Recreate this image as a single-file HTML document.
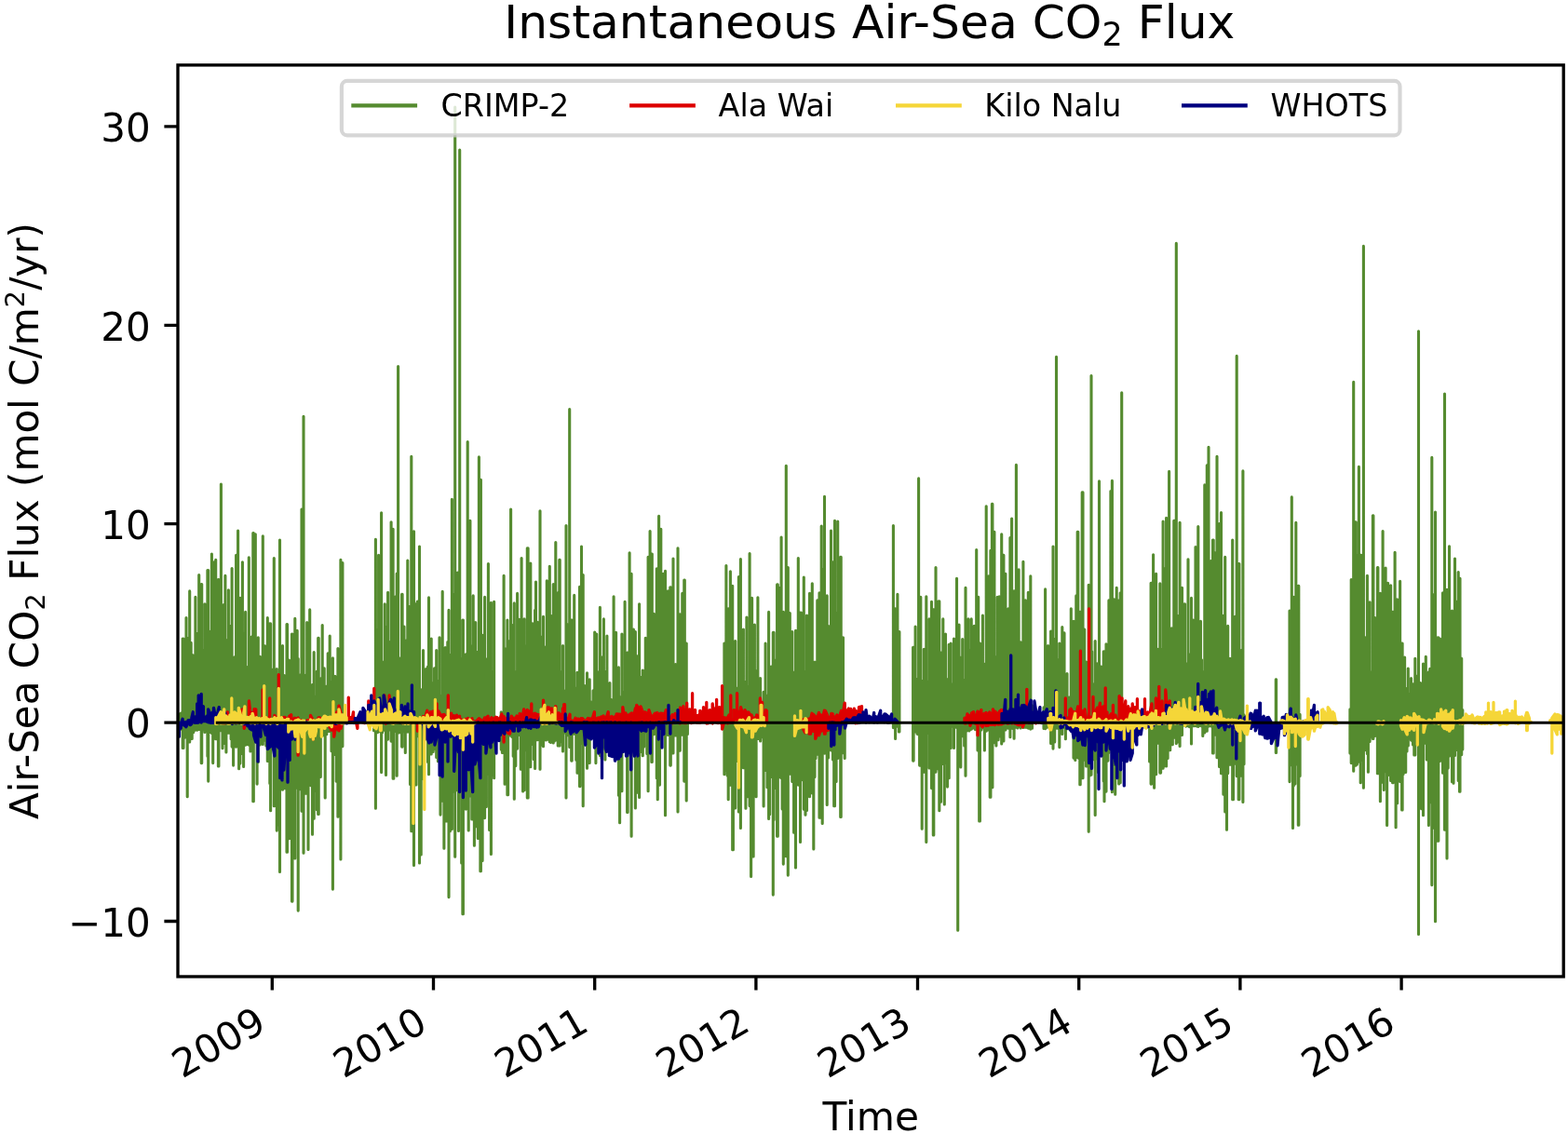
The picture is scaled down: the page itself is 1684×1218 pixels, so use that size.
<!DOCTYPE html>
<html lang="en"><head><meta charset="utf-8"><title>Instantaneous Air-Sea CO2 Flux</title>
<style>
html,body{margin:0;padding:0;background:#fff;}
body{width:1684px;height:1218px;overflow:hidden;}
svg{display:block;}
text{font-family:"DejaVu Sans", "Liberation Sans", sans-serif;fill:#000;}
.tk{font-size:42.05px;}
.lg{font-size:33.33px;}
.xt{font-size:41.75px;}
</style></head><body>
<svg width="1684" height="1218" viewBox="0 0 1684 1218">
<rect width="1684" height="1218" fill="#fff"/>
<path d="M193.5 766.5V783.3M194.8 765.8V783.1M196.2 686.1V803.4M197.0 686.1V803.4M198.7 740.5V792.1M200.0 663.6V785.8M201.2 685.2V855.8M202.6 716.6V793.2M203.7 634.9V796.9M205.2 690.4V791.8M206.2 703.2V793.4M207.8 704.0V786.6M209.9 641.2V784.1M211.7 680.5V784.3M213.7 617.5V783.5M216.2 627.5V819.6M216.7 627.5V819.6M218.2 698.2V783.1M219.9 648.7V786.4M222.9 612.5V812.2M223.7 612.5V839.1M224.7 678.1V786.8M226.0 704.3V786.1M227.4 595.0V787.5M228.7 658.1V819.6M229.9 603.7V783.1M231.7 601.2V793.7M234.4 622.5V822.9M234.9 622.5V822.9M236.4 697.1V784.7M237.4 520.1V783.3M239.0 658.4V803.7M240.3 649.6V798.5M241.9 618.2V784.0M242.9 717.0V808.0M244.2 687.5V785.8M245.4 633.7V787.2M246.8 672.3V786.9M248.1 711.2V793.8M249.1 610.5V802.1M250.6 723.8V822.1M252.0 705.7V786.9M253.6 596.3V802.3M254.6 639.9V787.5M255.6 570.1V795.1M256.6 676.0V825.8M257.9 642.4V820.1M260.4 603.7V809.5M261.6 680.1V823.4M263.6 657.4V800.3M265.0 719.1V799.4M266.3 716.4V799.8M267.3 598.8V800.1M268.9 686.3V806.9M270.2 684.0V798.6M271.8 572.5V860.8M272.3 572.5V860.8M274.3 573.8V796.3M276.1 725.1V842.1M277.3 684.8V818.4M279.3 705.3V800.0M280.6 735.5V798.3M282.3 575.8V799.5M284.5 693.8V795.2M285.8 711.5V801.0M287.3 663.6V817.5M288.4 726.1V799.9M289.8 669.9V841.5M290.6 669.9V870.8M292.3 719.2V798.2M294.3 599.5V865.8M296.2 732.2V840.2M297.3 718.5V892.1M298.8 749.7V885.9M300.5 580.0V936.4M303.5 693.6V848.3M305.3 725.5V846.7M306.6 736.2V830.7M308.0 670.6V915.2M308.5 670.6V915.2M310.5 709.1V900.8M311.8 733.0V885.0M313.5 681.1V968.1M314.0 681.1V968.1M315.7 715.4V853.7M316.8 664.4V921.9M318.3 715.2V846.1M319.2 677.4V844.3M320.2 707.5V978.1M322.2 725.1V847.6M324.0 547.1V871.2M326.0 447.3V916.2M327.4 738.4V832.8M328.7 725.1V852.3M329.7 668.6V834.9M331.0 690.3V912.4M332.7 654.9V842.7M333.9 740.3V843.7M335.5 735.5V896.2M337.2 700.6V879.3M339.1 748.1V849.5M340.4 721.0V869.7M341.7 685.3V874.5M342.2 685.3V874.5M344.3 728.9V834.5M346.2 671.6V790.2M348.2 717.9V788.3M349.2 741.9V857.0M350.8 737.1V788.7M352.2 701.8V785.5M354.2 683.1V785.4M356.0 732.2V806.7M357.4 706.8V955.1M358.6 744.8V810.6M359.9 726.4V786.7M361.2 747.4V839.3M362.9 696.6V877.3M365.9 601.2V922.9M367.2 604.5V801.6M367.9 604.5V801.6M401.5 764.7V784.7M403.4 579.3V868.3M405.4 676.6V786.7M406.6 596.3V785.9M408.0 717.3V783.3M409.6 550.8V829.6M410.6 719.1V786.8M411.9 711.0V784.3M413.3 648.7V783.7M414.5 673.3V832.5M416.6 636.2V794.1M418.4 689.8V783.9M420.1 560.8V796.1M422.1 568.3V836.3M422.8 734.4V836.3M424.9 640.7V785.4M426.2 616.1V833.2M427.6 393.6V783.6M428.8 706.7V787.0M430.1 711.3V785.3M431.6 638.2V802.1M432.1 638.2V802.1M434.0 673.0V785.6M435.3 706.2V808.4M436.6 687.9V785.8M437.8 602.0V786.1M439.2 651.3V785.2M440.5 692.6V842.5M441.8 490.2V892.7M443.1 659.1V792.2M444.5 570.8V929.4M445.7 648.6V842.2M447.0 654.3V842.9M448.3 646.1V790.8M450.5 587.0V926.9M452.2 740.7V918.0M453.5 744.9V794.8M454.5 698.6V836.6M456.1 726.0V789.6M457.4 718.5V792.4M459.5 716.0V818.4M460.5 641.9V831.7M463.2 686.1V810.0M465.2 733.6V807.4M466.5 717.9V804.4M468.7 698.6V813.4M470.4 732.0V817.7M472.0 684.8V808.0M473.0 747.4V875.1M475.2 635.4V860.3M476.9 701.3V911.2M478.2 695.5V816.4M479.5 723.9V882.0M480.8 689.5V834.5M482.0 655.4V963.6M483.4 703.2V892.8M485.4 536.4V890.4M487.3 638.2V850.1M488.7 115.0V920.2M489.9 695.0V816.3M491.4 615.0V848.7M492.5 703.4V892.5M493.7 161.1V842.0M495.7 707.4V926.9M496.9 666.1V981.8M497.4 666.1V981.8M499.0 728.0V826.9M500.3 702.7V869.1M502.2 474.5V826.2M503.2 611.8V892.0M504.9 559.3V854.9M506.8 693.7V880.0M508.2 639.9V842.9M509.4 721.0V908.2M510.7 668.6V887.7M512.0 700.4V836.0M513.3 730.1V900.4M514.4 490.9V856.9M515.9 515.2V935.7M516.4 515.2V935.7M518.1 682.2V924.4M520.6 641.2V878.6M522.4 708.1V866.4M524.4 605.5V831.4M525.6 698.2V891.5M527.4 647.4V917.5M528.9 721.8V832.4M530.6 646.2V835.8M538.2 764.9V805.1M539.4 766.2V808.4M541.1 618.2V790.1M542.1 721.7V842.3M543.4 696.9V790.8M544.9 666.1V853.8M545.6 720.9V853.8M547.3 688.5V789.7M548.6 547.1V790.2M549.9 736.8V791.5M551.2 671.4V812.2M552.3 647.9V858.3M553.8 721.5V822.6M555.6 637.4V804.1M557.7 665.2V789.5M559.3 672.7V826.3M560.1 599.5V826.3M561.6 728.1V849.9M563.1 664.9V848.8M564.2 693.7V805.7M566.3 588.8V857.0M567.1 588.8V857.0M568.1 687.4V794.2M569.8 605.0V823.7M572.0 669.7V799.4M573.3 674.8V815.6M574.6 655.3V825.4M575.5 625.0V792.3M577.2 668.4V794.8M578.5 694.0V791.3M580.0 548.8V826.3M581.1 694.5V800.2M582.4 684.0V795.3M583.5 662.4V801.8M585.0 708.6V790.3M586.3 694.8V795.0M587.3 623.7V789.5M588.8 690.0V794.2M590.3 608.2V796.8M591.5 661.4V797.5M592.8 700.7V794.7M594.3 627.5V797.9M595.4 659.6V796.1M596.8 582.5V790.0M598.0 677.3V795.1M599.2 636.8V800.9M600.8 601.2V800.9M601.2 601.2V800.9M603.2 721.5V796.8M604.5 693.6V806.9M605.8 742.0V786.9M608.0 564.6V857.0M609.7 670.8V789.6M611.7 439.5V802.4M613.7 666.1V817.1M614.2 666.1V817.1M616.7 639.4V788.2M618.8 739.0V816.3M620.0 722.3V830.3M621.4 735.3V806.5M622.5 630.4V844.6M623.0 630.4V844.6M624.5 587.0V798.1M626.2 617.5V865.8M627.9 736.6V787.4M629.2 754.3V788.2M630.5 722.8V825.2M631.8 754.7V786.7M633.2 729.8V819.4M634.4 753.8V785.8M635.7 756.0V790.3M637.0 741.7V786.0M638.7 679.1V786.3M639.9 681.1V819.6M640.7 681.1V789.9M642.2 721.7V788.0M644.4 652.4V811.5M646.1 735.1V814.2M647.4 705.5V804.2M648.4 664.9V788.4M649.9 721.4V815.9M651.9 683.1V785.2M653.9 745.6V789.5M654.9 733.5V786.1M656.5 751.5V785.6M657.8 757.4V785.5M659.1 640.7V789.5M660.4 721.5V811.5M661.6 679.4V790.7M663.0 728.2V787.9M664.4 716.8V854.3M665.6 754.1V883.8M666.9 748.6V787.9M667.9 681.1V849.8M669.5 744.3V786.0M671.1 646.2V788.9M672.1 742.0V788.1M673.6 701.1V872.5M674.1 701.1V872.5M676.1 593.8V787.1M678.1 616.2V898.2M680.4 676.1V788.2M682.4 678.6V867.9M683.8 704.5V786.6M685.1 705.8V851.3M686.6 648.7V856.5M687.7 729.5V788.7M689.0 727.3V807.6M690.3 720.0V811.8M691.6 749.9V802.1M693.3 685.3V786.3M694.8 715.8V809.6M696.1 598.3V849.8M698.1 570.6V804.7M699.8 595.0V818.4M700.3 595.0V818.4M702.3 659.4V788.7M703.3 715.5V785.1M705.3 610.7V835.7M706.3 658.6V858.8M707.6 554.3V786.5M708.5 655.7V843.1M709.8 568.3V785.1M711.1 697.0V788.5M712.3 616.2V788.7M714.5 613.2V875.8M716.3 700.6V785.3M717.3 634.9V789.5M719.8 630.7V822.1M720.3 630.7V822.1M721.5 672.1V787.7M723.0 600.0V808.9M724.1 753.0V789.3M725.5 713.5V789.9M726.7 739.5V789.5M728.0 588.8V872.0M729.3 682.7V786.3M730.3 659.9V806.3M732.8 637.4V789.3M734.8 623.0V839.1M735.3 623.0V839.1M737.2 691.1V860.0M738.4 766.4V788.6M777.9 691.1V831.7M779.9 607.5V827.3M781.1 703.9V833.1M782.2 653.7V858.8M784.4 613.7V843.3M786.7 629.2V912.7M787.4 735.1V912.7M789.7 688.6V868.0M791.5 739.2V817.5M793.4 619.5V872.0M795.4 600.5V889.5M796.7 705.1V818.0M798.4 676.1V824.8M800.9 732.3V868.3M801.9 663.1V836.3M803.4 737.4V855.8M805.1 594.5V865.6M806.6 676.2V941.4M807.6 642.4V842.3M809.1 724.2V919.9M810.4 671.1V823.8M812.1 720.9V855.8M813.9 641.7V793.4M814.6 750.7V793.4M816.6 728.5V795.9M818.8 756.4V791.7M820.1 743.2V865.9M822.1 691.1V827.4M824.0 747.3V845.8M825.6 657.4V879.5M826.6 739.7V874.7M828.1 716.0V834.4M829.2 744.8V830.8M830.3 679.4V961.1M831.1 679.4V880.6M833.1 709.0V846.5M834.6 627.9V898.2M835.3 627.9V898.2M836.6 631.2V834.7M839.1 577.0V835.7M840.1 725.9V869.0M841.3 657.4V928.1M844.3 500.2V919.7M846.3 609.5V940.1M848.3 658.6V831.3M850.8 678.6V839.5M852.6 722.2V894.3M854.5 677.4V931.9M857.3 599.5V843.1M859.5 658.1V904.5M860.3 658.1V829.6M861.7 721.4V837.6M863.3 620.0V869.2M865.0 721.5V875.3M866.5 661.1V870.4M868.2 713.4V830.1M869.5 637.4V855.8M870.8 705.9V827.7M872.3 626.7V851.9M873.8 744.5V911.9M875.0 711.1V834.6M876.0 751.0V814.6M877.8 644.9V810.2M880.0 636.7V878.3M880.8 636.7V878.3M882.2 565.1V854.9M883.2 611.2V884.5M885.5 533.4V809.1M888.2 639.9V864.5M889.5 672.4V813.9M892.5 570.1V806.0M894.5 603.7V815.9M895.7 657.3V865.8M896.5 559.3V865.8M898.1 659.0V839.4M899.7 560.1V814.4M900.7 671.9V809.5M902.7 598.3V877.5M903.2 598.3V877.5M905.5 684.8V808.8M907.2 756.8V814.4M959.4 564.6V781.6M961.6 653.7V793.4M963.9 638.2V780.3M965.4 678.6V785.9M965.9 678.6V785.9M980.6 695.3V817.1M981.1 695.3V817.1M983.1 673.1V786.0M985.0 729.5V788.3M986.6 513.9V789.1M987.6 691.9V822.1M988.8 641.2V787.4M990.2 731.3V890.3M992.3 697.3V829.2M994.8 640.7V904.5M996.7 732.0V787.4M998.0 664.9V824.9M999.3 706.5V817.6M1000.5 646.2V846.6M1002.3 654.9V897.0M1002.8 654.9V897.0M1005.0 609.5V829.3M1008.0 645.7V826.3M1008.8 645.7V870.8M1010.5 701.1V861.3M1012.8 664.9V820.4M1014.3 719.0V864.0M1015.5 681.1V819.2M1017.5 729.7V845.1M1019.2 692.3V835.8M1021.2 691.1V803.4M1022.7 734.9V780.2M1024.5 686.1V803.4M1027.5 621.2V781.6M1028.7 717.5V999.3M1030.0 671.1V783.0M1031.8 706.4V823.9M1033.7 686.6V790.6M1035.7 730.3V801.0M1037.0 631.2V833.3M1038.3 723.4V785.0M1040.0 664.9V782.2M1040.9 700.1V784.9M1042.2 699.0V783.6M1043.2 664.9V783.2M1044.8 723.6V782.1M1046.2 672.4V781.8M1047.4 712.5V783.6M1048.7 590.5V781.6M1050.0 641.2V805.9M1050.7 641.2V783.3M1051.7 728.3V882.0M1052.4 691.1V882.0M1053.9 738.7V784.0M1055.4 661.1V781.7M1057.4 713.3V805.9M1059.2 543.8V785.3M1060.4 708.7V784.3M1061.9 618.7V782.8M1063.2 677.5V856.3M1063.9 591.3V856.3M1065.4 541.4V845.8M1065.9 541.4V845.8M1066.9 655.1V783.2M1067.9 571.3V797.8M1069.9 705.5V800.9M1071.2 641.2V783.5M1072.1 702.3V794.7M1073.2 640.7V784.0M1074.7 671.6V790.9M1075.7 573.8V799.0M1077.4 596.3V795.9M1077.9 596.3V795.9M1079.9 616.2V783.9M1081.2 695.2V782.0M1082.9 653.7V782.3M1084.9 577.5V791.7M1086.6 557.1V781.5M1087.7 715.6V782.5M1089.1 634.9V793.3M1090.3 703.0V781.1M1091.4 499.4V781.1M1092.9 704.3V781.9M1094.1 611.7V780.5M1096.1 689.8V781.9M1098.9 603.2V781.5M1101.3 644.9V781.3M1103.3 696.7V781.4M1104.3 636.2V782.1M1105.9 735.0V782.2M1106.8 618.7V783.1M1108.5 757.7V782.3M1121.0 759.9V782.5M1122.6 632.9V782.8M1123.6 718.5V781.6M1125.6 693.6V780.9M1127.5 752.1V782.1M1128.6 678.1V798.4M1130.1 716.5V795.7M1131.0 587.0V804.1M1132.7 686.5V796.9M1134.5 383.2V782.1M1136.6 708.6V782.5M1137.8 691.1V802.6M1139.2 729.8V782.0M1140.8 673.6V788.4M1141.8 724.5V781.5M1143.0 679.9V781.3M1144.4 737.4V793.7M1146.0 723.5V781.4M1147.0 754.0V782.7M1148.3 749.0V782.7M1150.3 653.7V782.2M1153.0 667.4V814.1M1154.8 698.2V816.4M1155.8 639.9V812.9M1157.2 571.3V813.4M1157.8 571.3V813.4M1158.7 691.0V814.6M1159.8 657.4V842.8M1160.2 657.4V842.8M1161.3 690.0V806.1M1162.2 528.9V835.8M1163.0 528.9V835.8M1164.7 676.1V816.2M1166.5 711.1V822.9M1167.8 712.1V808.7M1169.2 628.2V893.2M1170.4 721.9V833.1M1172.0 403.6V832.3M1172.7 699.8V807.8M1174.3 735.0V815.7M1176.2 688.6V875.4M1178.2 712.9V815.0M1179.5 750.4V829.6M1180.5 516.9V811.0M1182.7 716.0V809.5M1185.2 699.8V838.9M1186.0 699.8V860.8M1188.0 691.8V850.1M1189.9 719.6V817.1M1190.9 644.9V808.5M1192.9 527.6V805.0M1194.4 516.4V850.8M1196.7 643.7V821.6M1197.7 673.0V853.3M1199.2 631.2V816.3M1200.3 684.2V812.4M1201.7 644.9V841.9M1203.2 636.7V840.8M1204.7 421.8V816.8M1234.6 766.9V817.9M1236.1 626.2V842.1M1236.6 626.2V842.1M1238.6 595.8V797.0M1239.6 700.6V846.3M1241.6 616.2V831.7M1243.7 697.4V798.1M1245.8 626.7V830.1M1246.6 705.8V830.1M1247.6 697.3V805.2M1249.1 560.1V825.2M1250.2 673.8V823.0M1251.5 610.5V798.6M1252.6 556.3V822.9M1254.1 610.4V814.5M1255.6 506.4V799.2M1256.7 732.1V805.8M1258.3 674.9V798.0M1259.3 726.2V799.7M1260.8 559.3V792.2M1261.6 559.3V781.0M1263.3 261.4V798.6M1264.5 661.4V797.1M1265.8 686.6V780.6M1267.1 561.3V801.4M1268.4 662.7V779.2M1269.5 631.2V789.4M1271.0 719.4V778.9M1272.0 648.7V778.4M1272.5 648.7V778.4M1273.6 712.8V780.1M1274.9 713.0V778.9M1276.0 600.7V779.7M1277.5 702.7V780.7M1279.5 642.4V798.9M1281.5 666.1V779.8M1282.7 693.7V779.6M1284.0 587.5V779.6M1285.3 663.9V779.9M1286.8 565.6V780.4M1287.9 700.0V779.6M1289.5 667.4V778.9M1290.5 708.7V780.0M1291.8 721.5V790.5M1293.8 520.9V787.0M1296.3 499.7V785.2M1298.0 480.2V780.1M1300.5 602.5V779.9M1302.5 580.0V808.9M1303.2 580.0V808.9M1305.0 593.8V789.3M1307.0 490.2V813.8M1309.5 562.6V823.4M1311.5 550.6V830.8M1312.6 673.2V815.9M1313.9 661.2V853.3M1315.7 598.3V872.0M1317.5 715.7V891.2M1318.7 672.4V830.6M1321.0 707.3V821.3M1323.7 580.0V858.8M1324.5 718.2V858.8M1326.5 662.4V820.1M1328.2 382.4V833.6M1330.2 605.5V858.8M1330.9 605.5V858.8M1332.1 717.6V814.2M1333.2 698.6V833.1M1334.9 505.9V861.5M1336.0 767.7V820.7M1370.3 729.8V808.5M1370.6 729.8V808.5M1385.0 656.1V839.6M1387.3 533.9V821.8M1388.5 732.0V889.5M1389.3 641.2V844.0M1390.9 676.2V841.9M1391.8 561.3V820.9M1394.3 629.4V886.2M1394.8 629.4V886.2M1396.1 767.4V833.4M1449.9 761.7V809.1M1451.2 622.5V819.6M1452.4 653.1V815.9M1453.7 410.4V828.3M1455.7 560.8V822.1M1456.2 560.8V822.1M1457.4 596.3V821.1M1459.4 501.4V818.1M1461.2 596.3V840.8M1461.9 596.3V816.2M1462.9 657.2V811.2M1464.4 264.4V846.3M1466.1 684.8V805.6M1468.4 618.2V809.6M1469.4 706.4V829.3M1471.1 646.7V796.4M1473.3 722.0V791.2M1474.4 553.8V793.4M1474.9 553.8V793.4M1476.6 663.6V790.4M1479.4 609.5V830.8M1479.9 609.5V830.8M1481.1 663.4V827.3M1482.4 637.4V860.8M1483.7 705.0V840.1M1485.1 570.6V830.9M1486.3 642.9V848.5M1488.1 610.0V828.8M1489.6 664.3V886.5M1490.6 626.2V832.8M1493.6 628.7V838.4M1495.6 657.4V840.8M1496.1 657.4V840.8M1498.1 593.3V831.8M1499.1 714.6V888.7M1500.6 643.7V862.8M1501.9 669.8V834.2M1503.6 624.2V839.4M1505.6 691.1V870.0M1506.1 691.1V870.0M1507.1 734.6V831.4M1508.6 706.1V818.4M1509.7 739.4V829.5M1511.0 740.7V806.9M1512.3 718.0V800.9M1513.6 745.6V792.9M1515.5 728.5V795.1M1517.5 734.8V800.0M1518.8 744.0V810.9M1519.8 707.3V810.9M1521.4 726.3V797.2M1523.5 355.7V1003.5M1525.5 733.5V797.0M1526.6 752.8V868.8M1528.5 713.0V875.8M1531.3 705.3V798.5M1532.3 735.7V815.9M1534.4 721.8V886.5M1535.7 718.4V861.7M1537.8 491.4V950.6M1539.8 638.7V889.1M1541.5 550.1V989.8M1544.0 684.8V903.2M1544.8 684.8V903.2M1546.5 686.1V817.4M1549.5 636.7V830.3M1550.2 636.7V830.3M1551.5 423.1V891.3M1552.6 659.8V816.0M1554.0 633.2V921.9M1555.2 687.4V825.1M1556.5 586.8V812.1M1557.8 695.7V803.2M1559.5 656.1V839.7M1561.0 685.7V841.3M1562.5 600.0V811.5M1564.5 646.2V805.5M1566.2 614.5V838.4M1567.5 621.2V850.3M1568.0 621.2V850.3M1569.7 707.3V810.6M1570.8 762.5V804.9" stroke="#558b2f" stroke-width="3.1" stroke-linecap="round" stroke-linejoin="round" fill="none"/>
<path d="M232.5 775.4V776.0L234.0 776.5V773.1L235.5 774.7V775.3L237.0 775.1V772.2L238.5 772.9V776.7L240.0 776.6V774.1L241.5 772.7V776.9L243.0 775.4V774.5L244.4 764.8V775.2L246.0 775.3V770.6L247.5 768.9V775.5L249.0 775.0V770.9L250.5 771.5V776.5L252.0 775.4V770.0L253.3 767.8V775.0L255.0 775.1V772.2L256.5 773.9V775.1L258.0 774.8V771.4L259.5 762.3V776.1L261.0 776.1V761.6L262.2 774.3V782.3L264.0 775.0V774.4L265.5 773.7V776.7L267.4 776.6V752.9L268.5 764.0V776.1L270.0 776.7V765.7L271.5 765.5V775.4L273.0 775.1V761.7L274.8 761.8V776.5L276.0 774.6V772.7L277.5 771.8V775.0L279.0 776.2V775.3L280.5 771.6V775.2L282.2 775.5V771.1L283.5 772.1V776.5L285.0 776.2V775.5L286.5 771.1V774.8L288.0 776.5V772.2L289.7 772.6V776.9L291.0 774.9V774.3L292.5 774.7V775.3L294.9 776.1V768.5L297.0 771.9V775.3L299.3 775.3V771.4L301.5 771.2V776.4L303.8 775.0V770.7L306.0 770.5V774.7L307.5 776.3V773.4L309.0 771.4V774.9L310.5 775.1V769.5L312.7 767.8V776.5L315.0 776.6V772.6L316.5 771.3V775.3L318.0 775.0V772.9L320.1 771.1V775.2L323.1 775.9V773.7L325.5 774.9V775.6L327.0 775.8V775.2L328.5 775.7V776.6L330.0 775.2V773.6L331.5 773.6V775.3L333.5 776.5V768.5L336.4 774.3V775.9L339.0 774.9V774.0L340.9 775.1V775.7L342.0 774.6V770.9L343.5 771.0V775.2L345.0 776.1V772.4L346.5 772.9V774.9L348.3 775.4V774.8L349.5 773.0V775.0L351.0 775.9V773.2L352.5 775.2V775.8L354.0 781.3V772.2L355.5 774.9V784.0L357.0 784.2V773.9L358.7 772.6V791.2L360.0 782.7V774.9L361.7 764.8V782.3L363.9 784.7V758.1L366.0 765.7V782.4L367.5 774.8V771.0L369.1 770.7V774.9L370.5 776.6V771.3L372.0 771.3V774.9L374.3 775.3V772.2L376.5 770.7V775.6L378.0 775.1V773.3L379.5 764.8V774.5L381.0 775.2V772.0L382.4 772.2V775.2L383.9 782.3V772.3L385.5 772.9V775.0L387.0 775.2V772.7L388.5 772.1V775.3L389.9 775.9V770.7L391.5 770.8V776.7L393.0 775.4V766.7L394.5 766.5V776.0L395.8 774.8V767.8L397.5 769.9V776.3L398.8 774.6V764.8L400.5 767.4V775.6L401.8 774.6V766.6L403.5 770.3V774.7L405.0 775.3V767.0L406.5 769.3V776.9L407.7 775.5V774.9L409.5 772.5V776.4L411.0 776.3V774.6L412.9 774.8V775.4L414.4 777.1V773.0L415.5 770.3V776.3L418.1 775.1V770.8L420.0 772.6V775.3L422.5 775.3V764.8L424.5 769.2V774.6L426.0 775.1V770.3L427.5 769.8V775.0L429.9 775.1V766.3L432.0 773.3V776.7L433.5 775.6V772.8L435.0 774.7V776.7L436.5 774.9V771.4L438.0 774.1V774.7L439.5 776.7V775.7L441.0 774.8V775.4L442.5 776.7V774.1L444.0 770.9V774.5L445.5 774.5V772.3L447.0 773.6V774.7L448.4 774.8V774.2L450.0 773.3V774.8L451.5 774.8V772.3L453.0 775.0V775.6L454.5 776.7V769.4L456.0 770.6V775.5L457.5 776.2V767.2L458.8 763.3V775.2L460.5 774.5V769.9L462.5 764.8V775.4L465.0 776.2V764.0L466.5 770.9V776.6L468.0 776.2V766.4L469.1 767.7V775.3L471.0 776.3V764.0L472.5 766.7V775.8L474.3 775.6V770.7L475.5 767.8V776.5L477.0 775.6V767.4L478.5 770.9V776.3L480.0 775.4V771.4L481.3 771.9V774.9L483.0 774.7V771.6L484.7 766.3V775.0L486.0 775.6V770.9L487.5 768.7V775.4L489.0 775.3V770.9L490.5 768.2V774.5L492.0 775.5V770.4L493.6 769.2V776.3L495.0 775.8V772.4L496.5 774.8V775.4L498.0 775.9V774.3L499.5 772.4V775.9L501.0 776.9V773.0L502.5 771.5V775.8L504.8 774.6V773.7L507.0 771.7V776.6L508.5 783.4V775.5L510.0 774.7V784.6L512.2 785.2V774.1L514.5 771.7V783.9L515.9 789.7V772.6L517.5 774.8V784.6L519.0 781.9V774.7L520.5 771.0V775.5L522.0 776.2V771.2L524.1 769.2V776.2L526.5 774.8V772.8L528.0 770.8V774.5L530.0 774.7V772.2L532.5 770.3V776.8L534.0 776.8V770.6L535.5 773.0V775.1L537.0 789.3V772.1L538.9 767.0V784.3L540.0 783.1V771.0L541.1 769.6V783.0L543.0 786.2V773.0L544.9 770.7V782.3L546.0 787.8V771.7L547.5 772.2V788.0L549.3 776.2V769.2L550.5 771.1V775.5L552.0 774.8V772.4L553.8 770.7V776.9L555.0 774.9V769.0L556.5 771.0V776.9L558.2 776.8V766.3L559.5 768.2V776.4L561.0 776.4V770.3L562.7 761.8V775.6L564.0 776.4V766.9L566.4 762.6V774.7L568.5 775.7V763.8L570.8 768.8V776.0L573.0 774.7V767.0L574.5 766.3V776.5L576.0 775.4V767.1L578.3 767.8V775.4L580.5 775.8V767.2L582.0 770.6V774.7L583.5 776.8V765.1L585.0 762.9V776.1L586.5 776.9V762.5L588.0 759.9V776.3L589.5 775.9V759.9L590.9 762.6V776.1L592.5 776.5V760.9L594.0 766.9V775.9L595.5 776.3V763.5L596.8 758.8V775.4L598.5 775.5V767.5L600.0 765.8V776.7L601.5 775.6V766.9L602.8 770.7V775.4L604.5 776.5V761.0L605.7 774.0V779.3L606.5 779.3V772.4L609.0 772.0V776.0L610.5 776.5V772.0L612.0 767.2V774.8L613.1 776.6V773.7L615.0 774.4V776.6L616.5 776.1V775.0L618.0 771.3V776.7L619.5 776.6V772.5L621.0 772.2V774.6L622.5 775.0V774.4L624.0 771.7V775.3L625.5 775.3V771.6L628.0 774.7V775.3L630.0 775.8V773.5L631.5 771.6V776.0L633.0 776.5V771.8L634.5 772.2V776.0L636.0 775.0V772.8L638.4 764.8V776.5L640.5 776.2V771.9L642.0 771.1V776.3L643.5 776.2V771.2L645.8 770.0V776.3L648.0 775.1V768.8L649.5 772.3V775.3L651.0 775.6V771.8L653.2 764.8V776.5L655.5 776.7V770.3L657.0 769.5V776.6L658.5 776.4V771.8L660.0 769.9V776.7L662.1 776.7V767.0L664.5 767.2V776.0L666.0 776.1V767.1L667.5 771.6V775.9L668.8 775.4V759.6L670.5 770.1V776.5L672.0 776.0V766.0L673.5 770.0V776.2L675.5 774.7V767.8L678.5 765.9V782.3L681.0 775.2V767.8L682.5 760.6V774.8L683.7 776.9V757.4L685.5 760.3V775.4L688.0 776.9V758.8L690.0 764.1V775.6L692.4 776.3V764.8L694.5 765.9V775.5L696.9 776.2V762.6L699.0 768.7V776.1L701.3 776.3V769.2L703.5 766.2V775.3L705.8 775.8V765.5L708.0 768.6V774.9L709.5 776.9V766.1L711.7 766.3V774.5L714.0 776.3V766.5L715.4 762.6V776.2L717.0 776.2V768.2L718.5 771.2V775.7L720.0 775.5V771.4L722.1 767.8V776.8L725.1 775.0V766.3L727.5 770.9V774.8L729.0 775.4V771.5L730.5 760.2V776.9L732.0 774.7V764.8L734.0 758.8V776.4L736.5 776.6V762.2L737.7 767.2V774.5L739.5 774.9V768.0L740.7 761.8V775.4L742.5 776.6V763.9L743.6 768.4V775.8L745.5 775.6V767.9L746.6 762.6V775.0L748.5 776.1V768.6L750.0 768.4V776.0L751.8 776.3V763.3L753.0 764.4V774.7L755.5 774.9V759.6L757.5 768.6V775.0L758.8 776.9V766.7L760.5 763.2V776.9L762.2 774.5V762.6L763.5 765.2V775.9L765.2 776.9V755.9L766.5 767.2V774.9L768.0 775.1V760.9L769.6 766.0V774.7L771.0 776.6V764.9L772.6 759.6V775.1L774.0 776.7V770.2L775.6 769.1V783.0L777.8 774.6V770.7L780.0 771.4V776.1L781.5 776.8V770.9L783.0 768.1V776.1L784.8 775.1V771.4L786.0 775.3V775.9L788.2 775.3V762.6L790.5 763.8V775.4L791.6 776.0V761.4L793.5 768.2V776.0L795.6 774.5V759.6L798.0 768.8V774.5L800.0 774.5V762.6L802.5 767.0V775.5L803.8 774.9V764.8L805.5 767.8V775.7L807.0 776.2V768.0L808.2 770.7V775.9L810.0 775.9V772.3L811.5 770.6V775.5L812.7 775.0V767.8L814.5 770.2V776.1L816.4 776.5V749.9L817.5 764.7V776.0L818.6 776.8V766.6L820.5 766.2V776.2L822.3 775.4V762.6L823.5 763.5V776.4M863.0 772.7V783.9L864.6 786.7V772.2L865.4 772.2V786.7L867.5 781.7V772.3L869.0 772.1V788.0L870.6 788.2V772.3L872.0 766.3V784.2L873.5 785.3V767.4L875.8 769.9V793.4L878.0 786.3V770.5L879.5 765.5V789.7L881.0 784.7V767.5L882.5 770.8V785.0L884.0 782.9V768.9L885.4 763.3V788.2L886.2 788.2V763.3L888.5 767.9V784.6L889.9 782.3V771.0L891.5 770.0V784.2L892.8 781.5V766.3L894.5 767.0V776.4L896.0 775.0V770.4L897.5 769.6V775.8L898.8 776.0V767.8L900.5 771.5V775.3L902.0 776.7V768.2L903.5 763.5V776.5L905.0 776.1V768.8L907.2 755.1V775.3L909.5 774.9V764.3L911.4 761.1V775.7L912.5 774.9V761.5L913.6 761.3V776.3L915.5 775.9V768.1L917.3 761.1V775.9L918.5 776.8V763.1L920.0 764.2V776.7L922.5 776.3V759.6L925.5 758.8V775.4L927.5 774.5V767.2L930.0 770.7V775.0M1036.0 771.2V776.8L1037.5 776.8V775.3L1038.9 767.0V776.3L1040.5 774.5V768.3L1041.9 771.2V779.3L1043.5 775.4V766.0L1045.6 764.8V776.2L1048.0 777.3V770.3L1050.0 764.1V774.9L1052.5 776.5V766.8L1053.8 762.6V779.1L1055.2 780.8V768.8L1057.0 766.4V777.7L1059.0 779.4V765.5L1061.2 768.8V779.3L1062.7 778.1V764.8L1064.5 768.8V778.4L1066.4 778.2V761.8L1067.5 766.0V776.7L1068.6 778.6V764.1L1071.6 767.0V778.1L1073.5 777.9V764.3L1075.3 762.6V777.8L1076.0 777.8V762.6L1078.0 768.9V776.8L1079.5 776.0V768.8L1082.0 773.9V777.1L1084.0 776.6V772.4L1085.5 775.6V776.2L1087.0 776.9V771.1L1088.5 774.2V775.9L1090.1 777.1V774.7L1091.5 775.2V777.3L1093.0 778.5V772.3L1094.5 773.9V778.8L1096.0 777.5V772.1L1098.3 772.8V780.8L1100.5 775.7V774.9L1102.8 771.5V775.5L1105.0 776.5V767.0L1106.5 774.1V776.4L1108.7 776.5V773.7L1111.0 771.1V774.6L1112.5 776.8V773.6L1114.0 771.2V774.9L1115.5 775.7V775.0L1117.6 775.2V775.8L1120.0 776.1V773.6L1121.5 775.1V775.7L1123.0 776.2V775.3L1124.5 774.4V776.1L1126.0 775.5V772.3L1127.5 773.0V776.9L1129.0 775.7V773.2L1130.5 773.3V776.5L1132.0 775.6V771.7L1133.5 775.1V776.2L1135.0 774.6V770.9L1136.5 774.9V775.5L1138.0 775.3V772.1L1139.5 772.2V775.1L1141.0 775.5V774.9L1142.5 772.6V774.8L1144.3 774.7V773.8L1145.5 774.8V775.4L1147.0 775.2V770.8L1148.8 772.8V776.6L1150.0 774.9V761.1L1151.5 764.2V775.1L1153.0 776.4V764.7L1154.5 764.9V775.2L1156.0 775.3V768.5L1157.7 758.8V775.0L1159.0 774.6V764.3L1160.4 763.4V776.1L1162.0 775.7V763.4L1163.6 764.8V776.7L1165.0 774.8V762.0L1166.5 771.5V776.7L1168.0 775.4V771.9L1169.6 773.8V775.5L1171.0 775.4V770.0L1172.5 772.4V776.0L1174.0 776.1V764.8L1175.5 765.4V775.9L1177.0 775.0V763.5L1178.5 760.3V774.7L1180.0 776.4V764.7L1181.4 755.1V776.9L1183.0 775.4V761.0L1185.0 758.8V775.6L1187.2 774.5V767.4L1189.0 765.1V775.7L1190.9 775.4V770.7L1193.5 766.7V775.2L1195.4 776.1V768.7L1196.5 768.0V775.4L1198.0 776.4V768.1L1199.5 775.0V775.6L1202.1 776.1V747.7L1205.0 764.0V776.1L1207.0 775.2V764.9L1208.8 752.9V774.8L1210.0 775.6V760.6L1211.7 758.8V775.6L1213.0 776.9V766.5L1214.5 761.1V776.7L1216.2 776.6V755.9L1217.5 767.7V776.0L1219.0 776.9V759.7L1221.4 767.1V776.5L1223.5 774.8V763.7L1225.1 764.8V774.9L1226.5 775.0V766.8L1228.0 771.1V776.3L1229.5 776.3V768.6L1231.0 768.2V776.4L1232.5 774.7V764.8L1234.0 767.1V774.5L1235.5 776.4V763.6L1237.0 755.9V776.5L1238.5 774.8V765.5L1240.0 764.0V775.6L1241.4 774.5V749.9L1243.0 759.8V776.4L1244.8 776.1V760.5L1246.0 772.3V774.8L1248.1 774.7V771.6L1250.5 762.2V775.1L1251.8 775.6V741.0L1253.5 765.2V774.7L1255.0 776.8V755.9L1256.3 752.9V775.7L1258.0 776.7V765.7L1259.2 761.8V775.9M282.2 741.0V776.1M289.7 749.9V776.1M299.3 724.7V776.1M320.1 776.1V811.2M336.4 776.1V794.1M374.3 749.2V776.1M395.8 752.9V776.1M401.8 739.5V776.1M407.7 764.8V776.1M412.9 747.0V776.1M418.1 747.0V776.1M448.4 776.1V785.2M469.1 755.9V776.1M481.3 747.0V776.1M541.1 776.1V797.1M570.8 755.9V776.1M583.5 752.2V776.1M605.7 756.6V776.1M606.5 756.6V776.1M737.7 755.1V776.1M743.6 744.7V776.1M758.8 754.4V776.1M769.6 751.4V776.1M775.6 736.6V776.1M784.8 747.0V776.1M791.6 744.7V776.1M818.6 754.4V776.1M1050.0 776.1V789.7M1098.3 757.4V776.1M1102.8 740.3V776.1M1144.3 749.9V776.1M1148.8 762.6V776.1M1160.4 699.2V776.1M1169.6 653.9V776.1M1174.0 748.5V776.1M1187.2 738.8V776.1M1195.4 757.4V776.1M1205.0 749.9V776.1M1221.4 750.7V776.1M1229.5 750.7V776.1M1244.8 737.3V776.1M1248.1 752.9V776.1" stroke="#dd0000" stroke-width="3.3" stroke-linecap="round" stroke-linejoin="round" fill="none"/>
<path d="M192.4 776.4V777.0L194.2 782.3V777.7L196.1 772.2V778.2L198.4 779.4V775.8L199.8 775.5V780.8L202.1 776.3V773.7L204.3 773.7V778.7L205.9 777.3V770.8L207.3 764.8V774.9L209.5 776.3V770.7L211.7 768.3V776.3L213.2 775.2V766.5L214.9 771.9V774.8L216.2 775.0V765.5L218.4 758.8V774.6L220.6 774.7V770.7L222.4 768.9V775.3L223.6 775.7V761.8L225.4 766.1V775.9L226.6 776.4V769.2L228.4 765.0V776.4L229.5 776.2V760.3L231.4 770.4V775.8L232.5 774.5V770.7L235.2 759.6V775.2L237.0 775.6V770.7L238.9 770.4V776.1L240.4 776.0V765.5L241.9 765.8V774.8L243.4 776.5V775.9L244.9 775.3V775.9L246.4 776.5V775.9L247.9 775.4V776.0L249.4 777.4V776.8L250.9 775.9V776.5L252.4 776.1V775.5L253.9 776.4V777.0L255.4 775.6V775.0L256.9 775.7V776.3L258.4 776.1V775.5L259.9 775.7V776.3L262.2 777.8V776.6L264.4 775.9V777.1L265.9 779.8V775.9L268.1 776.1V782.3L270.4 783.9V777.5L272.6 777.4V789.7L274.8 797.1V777.7L277.0 776.1V783.3L280.0 791.2V776.8L283.0 776.5V780.8L285.4 789.2V777.6L287.4 776.6V804.5L290.4 801.6V777.6L292.9 777.5V800.8L294.9 812.0V776.2L297.8 775.9V801.6L300.8 804.5V777.0L301.9 776.7V811.3L303.0 837.9V776.6L304.9 776.5V827.0L306.0 809.0V776.2L309.0 777.0V802.9L311.2 816.4V777.1L313.4 777.3V794.1L314.9 782.3V777.4L316.9 777.2V794.3L318.4 781.3V777.6L319.9 776.1V781.2L321.4 776.2V775.6L322.9 776.5V777.1L324.4 776.6V776.0L325.9 775.2V775.8L327.4 776.1V775.5L328.9 775.4V776.0L330.4 776.9V776.3L331.9 775.8V776.4L333.4 776.9V776.3L334.9 775.7V776.3L336.4 776.3V775.7L337.9 775.2V775.8L339.4 775.9V775.3L340.9 775.7V776.3L342.4 776.1V775.5L343.9 775.7V776.3L345.4 776.5V775.9L346.9 775.6V776.2L348.4 775.9V775.3L349.9 775.8V776.4L351.4 775.8V775.2L352.9 775.7V776.3L354.4 776.1V775.5L355.9 775.5V776.1L357.4 776.6V776.0L358.9 775.8V776.4L360.4 777.2V776.6L361.9 776.4V777.0L363.4 776.0V775.4L364.9 775.5V776.1L366.4 776.3V775.7L367.9 776.0V776.6L369.4 776.5V775.9L370.9 775.8V776.4L372.4 776.9V776.3L373.9 775.6V776.2L375.4 776.3V775.7L376.9 775.8V776.4L378.4 776.2V775.6L379.9 775.9V776.5L381.4 774.5V771.4L383.2 773.7V776.3L384.4 775.4V770.7L386.9 764.8V775.3L389.9 775.4V760.3L392.8 764.8V775.8L395.8 775.8V757.4L398.8 769.4V774.9L401.8 776.0V752.9L404.7 758.8V775.0L407.7 776.1V749.9L409.9 768.0V775.2L412.1 775.6V747.0L414.4 758.6V775.0L416.6 775.9V758.8L419.6 751.4V775.9L421.9 774.8V758.0L423.3 749.9V774.6L424.9 775.8V764.1L427.0 761.8V774.5L429.4 775.1V769.6L431.4 768.4V774.7L433.9 775.5V764.2L435.0 758.8V776.0L438.0 776.2V768.6L439.9 764.1V775.5L442.4 774.8V769.0L444.6 764.8V775.9L446.9 775.5V773.7L448.9 773.6V776.0L450.4 776.2V772.4L451.9 775.7V776.3L453.4 777.3V776.7L454.9 775.4V776.0L456.4 794.3V776.2L458.8 776.7V791.2L460.9 797.9V776.4L463.2 776.5V797.1L465.4 782.7V776.1L466.9 776.3V800.1L469.1 791.2V776.6L472.1 776.9V785.1L475.1 793.8V776.1L478.1 776.8V797.1L481.0 792.8V776.0L484.0 776.5V791.2L486.4 788.0V775.8L487.7 775.9V828.3L489.4 794.3V776.2L490.7 777.1V797.1L492.4 807.7V777.3L493.6 775.9V804.4L495.4 776.2V775.6L497.4 776.9V798.3L500.3 776.9V776.3L503.3 777.6V826.8L504.4 801.9V776.6L505.9 777.1V820.0L507.7 850.6V776.8L510.0 776.0V820.9L512.2 812.0V776.8L513.4 776.1V804.2L515.9 835.7V776.9L518.1 777.3V797.1L519.4 799.3V776.1L521.9 777.5V809.0L524.1 791.2V777.7L525.4 776.5V791.1L526.9 802.8V777.2L528.5 777.0V797.1L529.9 789.3V776.2L531.4 777.0V785.5L533.0 809.0V777.3L534.4 777.7V789.4L536.0 784.6V777.1L537.4 776.2V789.4L538.9 782.3V777.2L540.4 777.3V786.7L541.9 788.2V777.5L543.4 777.5V781.7L545.6 784.1V776.5L547.8 775.9V780.8L549.4 782.7V776.7L550.9 776.6V785.0L552.3 785.2V777.5L553.9 776.0V779.5L555.4 779.9V777.1L556.7 776.9V785.2L558.4 784.1V776.0L559.9 777.6V779.7L561.2 780.8V776.2L562.9 776.4V779.8L564.4 780.7V777.1L565.6 770.7V779.8L567.4 781.7V777.6L568.9 773.5V776.3L570.1 782.3V773.0L571.9 773.6V779.7L573.4 780.6V776.4L574.5 773.7V779.9L576.4 781.1V775.0L578.3 774.6V780.8L579.4 775.1V774.4L580.5 770.7V774.6L582.4 776.2V775.6L583.9 775.6V776.2L585.4 776.2V775.6L586.9 775.5V776.1L588.4 776.2V775.6L589.9 776.2V776.8L591.4 776.4V775.8L592.9 775.5V776.1L594.4 775.5V774.9L595.9 776.0V776.6L598.3 777.0V776.4L600.4 775.7V776.3L601.9 778.1V776.1L603.4 775.8V779.4L604.9 779.3V777.0L607.2 777.0V785.4L608.7 782.3V776.4L610.9 777.1V779.3L613.1 788.2V775.9L615.4 776.3V786.1L616.9 783.9V777.7L619.1 776.6V786.7L621.4 783.7V777.5L623.5 776.6V782.3L625.9 782.6V776.6L627.4 775.8V785.5L628.7 800.1V776.2L630.4 775.9V790.6L632.5 792.7V776.8L634.9 777.4V793.9L636.4 790.5V776.5L638.4 776.4V803.1L640.9 799.0V777.6L642.8 777.6V788.9L645.4 807.5V776.5L646.5 777.2V793.9L648.4 789.1V776.0L650.3 777.0V803.1L651.4 807.4V775.9L652.9 776.5V796.0L654.4 792.2V777.6L656.2 776.1V792.4L657.4 812.5V777.6L658.9 777.7V801.6L660.6 817.2V775.9L661.9 777.1V815.1L664.4 814.9V776.3L666.4 776.3V812.5L668.1 803.1V776.6L669.4 777.7V807.3L670.9 800.1V777.3L672.5 777.4V790.9L673.9 811.6V776.7L675.4 777.7V808.8L677.7 795.8V777.7L679.9 777.3V795.8L681.4 812.0V777.7L682.9 777.3V800.6L685.0 812.0V776.6L687.2 776.5V782.3L688.9 785.1V776.1L690.9 776.7V784.5L693.9 785.2V776.4L696.4 777.4V780.7L698.4 779.6V777.3L701.3 777.6V782.3L704.3 777.1V776.5L705.4 776.6V778.0L707.3 780.3V775.9L708.4 775.8V782.5L709.9 781.8V777.3L711.0 776.9V785.7L712.9 788.4V776.2L714.7 775.7V776.3L715.9 776.8V776.2L718.0 775.3V775.9L719.9 776.2V775.6L721.9 775.6V776.2L723.6 774.7V773.7L724.9 775.8V776.4L726.4 775.7V775.1L728.0 775.2V775.8L730.3 776.1V775.5M889.9 777.3V782.3L891.0 776.8V776.2L892.8 777.5V780.3L894.0 778.0V776.0L895.8 776.6V780.0L897.0 783.7V777.5L898.8 776.6V779.3L900.0 778.2V777.5L901.8 777.1V788.2L903.0 778.0V777.4L904.5 775.8V777.8L906.2 777.1V776.5L907.5 774.5V782.0L909.2 775.9V772.2L910.5 774.4V776.1L912.0 776.4V773.2L913.6 773.7V775.4L915.0 776.2V773.3L916.5 771.0V776.0L918.1 775.7V770.7L919.5 772.0V774.7L921.0 775.6V770.0L922.5 767.8V776.4L924.0 775.5V767.8L925.5 770.1V775.5L927.0 775.2V764.8L928.5 773.3V774.5L930.0 775.8V762.6L931.5 772.7V775.0L933.7 775.6V769.2L935.0 770.7V775.4L937.5 775.4V771.5L938.7 765.5V775.9L940.5 774.5V769.7L942.4 770.7V775.9L943.5 775.1V769.7L945.7 763.3V774.6L948.0 775.1V770.3L949.9 767.0V775.7L951.0 774.6V766.9L953.6 769.2V776.3L955.5 775.9V772.2L957.6 767.0V774.6L961.0 775.1V772.2L964.0 775.3V775.9M1076.0 766.3V775.5L1078.3 775.9V767.8L1079.7 751.4V775.2L1081.3 776.1V763.9L1082.7 764.8V776.1L1084.3 776.2V764.3L1085.7 759.9V774.6L1087.9 775.0V761.8L1090.9 765.5V776.3L1093.5 775.2V762.9L1094.8 765.9V774.6L1096.1 775.7V761.8L1097.8 757.7V774.5L1099.8 774.6V757.4L1102.8 760.3V774.8L1105.3 776.1V757.5L1107.2 752.2V776.1L1108.3 776.0V764.8L1109.8 766.6V775.2L1110.9 775.3V752.9L1113.2 767.8V775.4L1114.3 774.7V770.9L1116.9 759.6V775.0L1118.8 776.4V767.1L1120.6 764.8V775.9L1121.8 775.5V767.9L1124.3 761.8V775.0L1126.5 775.3V770.7L1127.8 764.5V776.3L1129.3 776.1V768.8L1131.0 770.4V775.3L1132.3 776.2V774.0L1133.9 769.9V774.9L1136.2 776.4V770.7L1139.1 768.5V781.8L1141.3 780.8V773.8L1142.8 771.1V777.6L1144.3 777.8V777.2L1145.8 775.9V782.3L1147.3 781.7V777.7L1148.8 777.0V782.6L1150.3 785.2V777.7L1151.8 775.8V785.2L1153.2 792.7V776.1L1154.8 776.6V790.0L1156.3 787.4V777.2L1157.7 775.9V795.6L1159.3 794.0V776.4L1160.8 776.0V783.1L1162.9 800.1V777.3L1165.3 776.6V800.5L1166.6 782.3V777.5L1168.3 777.0V790.7L1169.6 790.9V776.1L1171.3 776.7V800.9L1172.5 825.3V776.8L1174.3 777.7V800.8L1176.2 806.0V777.4L1178.8 776.7V795.1L1180.0 798.3V776.7L1181.8 776.3V805.7L1182.9 812.0V777.6L1185.0 776.6V797.1L1186.3 794.6V777.0L1188.0 776.1V806.0L1189.3 785.9V775.8L1190.9 777.0V791.2L1192.3 804.4V776.8L1193.9 777.4V792.7L1195.3 803.4V777.1L1196.9 777.3V812.0L1198.3 821.0V777.5L1199.8 776.8V797.9L1201.3 806.8V777.2L1203.6 776.3V795.7L1205.8 816.3V776.5L1207.3 777.6V803.1L1208.8 795.8V776.0L1210.2 775.9V817.9L1211.8 802.2V776.3L1214.0 776.1V816.4L1216.2 809.0V776.4L1218.4 776.8V792.7L1220.8 799.9V776.2L1222.1 776.7V789.7L1223.8 783.0V777.5L1225.3 776.7V788.8L1226.6 780.0V777.5L1228.0 777.7V780.8L1229.8 778.3V776.3L1231.3 777.2V778.3L1232.5 780.8V777.4L1234.3 777.5V780.2L1235.8 777.8V776.5L1237.0 777.3V777.9L1238.8 779.1V777.0L1240.3 775.3V775.9L1241.8 775.9V775.3L1243.3 775.8V776.4L1244.8 775.6V775.0L1246.3 775.4V776.0L1247.8 777.3V776.7L1249.3 775.1V775.7L1250.8 776.9V776.3L1252.5 776.1V776.7L1253.8 776.5V775.9L1255.3 757.9V775.6L1256.8 775.5V766.0L1258.3 760.8V775.5L1259.8 775.8V775.2L1262.2 775.7V776.3L1264.3 776.1V775.5L1265.8 775.0V775.6L1267.3 776.9V776.3L1268.8 776.5V777.1L1270.3 776.7V776.1L1271.8 775.2V775.8L1273.3 776.5V775.9L1274.8 776.3V776.9L1276.3 776.0V775.4L1277.8 775.9V776.5L1279.3 775.8V775.2L1281.5 764.8V775.5L1283.8 776.4V759.4L1285.3 767.8V774.6L1286.7 775.0V766.0L1288.3 764.0V775.5L1289.7 775.9V754.4L1291.3 762.5V774.8L1292.8 774.8V748.2L1294.6 741.8V776.1L1295.8 776.0V751.2L1297.3 754.1V775.1L1298.6 774.7V745.5L1300.3 761.6V775.8L1301.8 775.6V750.9L1303.0 766.3V775.6L1304.8 776.0V763.7L1306.7 760.3V774.5L1309.0 781.3V770.7L1311.2 771.7V779.3L1312.3 777.9V772.9L1313.8 776.4V777.4L1315.6 783.8V777.6L1316.8 776.7V781.0L1318.3 778.0V777.0L1320.1 776.1V780.8L1321.3 778.6V776.5L1323.8 777.6V780.1L1325.8 781.2V775.9L1327.8 776.3V776.9L1329.7 782.3V776.4L1332.0 769.2V780.9L1333.3 777.6V777.0L1334.8 776.0V777.8L1336.4 779.3V771.5L1337.8 770.1V777.9L1340.1 778.0V777.4L1343.1 766.3V782.3L1343.8 782.3V766.3L1345.3 769.6V780.3L1346.8 779.9V769.9L1348.3 763.3V784.9L1349.8 780.9V763.2L1351.3 769.9V774.9L1352.8 775.4V755.1L1353.5 755.1V775.0L1355.8 788.9V770.9L1357.2 769.2V785.3L1358.8 792.7V773.8L1360.9 770.7V793.2L1362.4 792.7V770.5L1365.4 776.3V798.6L1367.8 792.8V777.1L1369.1 776.9V792.7L1370.8 791.6V777.2L1372.0 777.5V800.8L1373.8 781.5V776.7L1375.0 776.7V782.3L1377.2 781.7V770.7L1379.5 770.0V789.7L1381.3 785.8V767.3L1382.8 771.8V775.5L1384.3 775.6V773.0L1386.2 761.1V775.7L1387.3 775.7V770.1L1389.9 773.7V776.3L1391.8 775.4V768.0L1393.3 775.2V775.8L1394.8 776.4V775.8L1396.3 775.8V776.4L1397.8 776.7V776.1L1399.3 775.0V775.6L1400.8 776.2V775.6L1402.3 776.0V776.6L1403.8 775.9V775.3L1405.3 775.1V775.7L1406.8 776.5V775.9L1408.3 763.1V775.1L1409.8 776.4V767.5L1411.4 757.4V775.3L1412.8 776.1V766.7L1415.1 764.8V776.3M192.4 776.1V791.2M211.7 755.9V776.1M213.2 747.0V776.1M216.2 745.5V776.1M277.0 776.1V817.9M300.8 776.1V835.7M309.0 776.1V840.2M398.8 747.0V776.1M431.4 757.4V776.1M438.0 755.9V776.1M442.4 735.8V776.1M472.1 776.1V832.7M475.1 776.1V834.2M481.0 776.1V817.9M493.6 776.1V850.6M497.4 776.1V856.5M500.3 776.1V849.1M536.0 776.1V795.6M545.6 766.3V776.1M607.2 767.0V776.1M642.8 776.1V809.0M646.5 776.1V835.7M654.4 776.1V811.5M656.2 776.1V812.0M672.5 776.1V812.0M677.7 776.1V826.8M698.4 776.1V809.0M707.3 776.1V794.1M711.0 776.1V803.1M718.0 757.4V776.1M719.9 776.1V788.2M728.0 762.6V776.1M892.8 776.1V801.6M895.8 776.1V800.1M1085.7 703.9V776.1M1090.9 751.4V776.1M1093.5 746.2V776.1M1131.0 760.3V776.1M1133.9 741.8V776.1M1169.6 776.1V819.4M1180.0 776.1V847.6M1193.9 776.1V847.6M1199.8 776.1V835.7M1203.6 776.1V826.8M1207.3 776.1V843.9M1226.6 761.8V776.1M1252.5 757.4V776.1M1262.2 754.4V776.1M1286.7 734.4V776.1M1291.3 743.5V776.1M1300.3 742.8V776.1M1303.0 741.8V776.1M1323.8 776.1V800.1M1327.8 776.1V814.9M1352.8 776.1V788.2M1353.5 776.1V788.2" stroke="#00007f" stroke-width="3.3" stroke-linecap="round" stroke-linejoin="round" fill="none"/>
<path d="M231.8 770.7V777.4L234.0 776.8V770.7L237.0 764.8V776.9L239.3 776.7V770.1L240.7 761.8V776.5L242.3 776.3V768.6L244.4 770.7V777.1L246.8 777.0V768.2L248.8 767.8V776.0L251.8 776.3V764.8L254.3 767.1V776.7L256.3 775.9V760.3L259.2 770.7V777.1L261.8 776.6V765.6L262.9 758.8V775.5L264.8 775.3V770.3L266.6 770.7V775.1L267.8 775.5V771.9L269.3 769.6V776.7L271.1 776.1V766.3L272.3 770.8V775.7L273.8 776.9V772.6L275.6 770.7V774.6L276.8 776.4V773.0L278.3 771.6V774.6L280.0 774.9V772.2L281.3 771.7V776.4L283.7 775.6V773.4L285.9 770.7V777.3L287.3 775.9V772.1L288.9 773.7V775.9L290.3 777.1V772.9L291.8 772.4V774.7L293.3 776.0V773.7L294.9 770.7V775.2L296.3 776.1V772.7L297.8 771.4V777.4L299.3 775.8V771.7L300.8 772.2V774.5L302.3 776.1V770.7L303.8 773.9V776.4L305.3 774.5V773.6L306.7 773.7V774.9L308.3 774.7V772.5L309.8 772.5V786.2L311.3 782.0V776.6L312.8 775.0V783.2L314.2 782.3V776.6L315.8 775.6V780.3L317.1 791.2V774.0L318.8 773.7V781.7L320.1 782.2V772.8L322.3 774.3V782.3L324.6 791.2V774.1L326.8 774.2V786.4L329.7 782.3V776.4L332.3 775.6V787.4L333.5 791.2V773.0L335.3 775.9V781.0L336.4 794.1V773.8L338.3 774.3V790.4L339.4 785.2V774.0L342.4 772.8V780.8L345.3 779.2V773.2L348.3 769.2V782.3L349.0 782.3V769.2L351.3 770.6V779.3L352.8 778.8V770.7L354.8 770.2V778.2L356.3 780.5V772.1L357.9 768.9V775.5L360.2 775.0V767.8L362.3 767.8V776.5L363.9 776.2V761.8L365.3 768.8V776.1L366.9 776.9V767.8L368.3 767.9V776.8L370.6 775.7V771.3L372.1 770.7V775.0M395.0 764.6V776.5L397.3 783.8V769.2L399.5 764.1V777.3L401.8 781.2V771.8L404.0 770.4V782.9L406.2 775.1V765.9L408.4 767.8V784.5L409.2 784.5V767.8L411.5 766.4V775.2L413.6 775.5V761.8L416.0 769.6V774.6L418.1 775.7V755.9L420.5 762.7V776.7L422.5 777.2V767.8L425.0 766.0V776.4L427.3 775.3V769.0L429.9 764.8V774.6L432.5 776.7V771.7L435.0 769.2V777.4L437.0 775.3V770.7L438.5 770.7V777.4L440.9 775.9V766.3L443.9 772.8V774.7L445.4 775.5V770.7L447.5 771.8V774.8L449.9 775.6V775.0L451.0 770.7V775.6L454.3 776.5V770.7L455.8 770.9V776.5L458.8 776.9V767.8L460.2 771.8V780.8L463.2 776.8V770.7L465.5 771.0V775.8L467.4 780.4V772.6L468.5 772.6V774.5L470.6 774.8V770.7L473.0 772.1V776.4L474.3 783.8V775.2L475.1 775.2V783.8L477.5 781.9V773.3L479.5 770.7V782.9L481.3 780.5V775.6L482.5 773.8V785.2L484.0 784.3V775.2L486.5 774.4V787.8L488.4 789.7V774.5L491.4 773.7V788.4L492.5 786.9V773.2L494.4 774.5V792.7L495.5 789.2V774.9L497.4 774.0V784.6L498.5 784.9V773.2L500.0 775.5V789.8L501.8 788.2V775.2L503.0 775.4V785.0L504.5 784.7V772.9L506.0 774.8V788.1L507.7 785.3V775.7L509.2 776.2V776.8L510.0 776.8V776.2M581.2 761.8V775.6L582.7 777.4V764.2L584.9 757.4V776.6L587.2 777.2V768.4L589.4 764.8V775.0L591.7 775.7V770.5L593.1 767.8V774.5L594.7 775.7V768.6L596.1 770.8V775.1L598.3 776.4V775.8M790.0 776.2V778.9L791.9 782.3V776.2L793.4 775.7V779.7L794.5 779.6V773.3L796.0 773.9V780.2L797.8 780.8V773.1L799.3 775.2V780.7L801.5 786.7V775.7L804.5 770.7V782.3L807.5 780.1V775.2L808.2 775.2V791.9L809.5 780.8V773.7L811.2 773.2V785.2L813.4 780.8V773.7L814.2 773.7V780.8L815.5 778.5V774.4L817.1 774.0V779.3L817.9 779.3V774.2L820.1 770.7V778.9L821.3 779.6V776.7M853.5 768.9V790.4L855.7 781.5V773.7L857.2 773.9V782.3L859.9 781.2V774.8L861.7 776.7V780.8L862.4 780.8V776.7L863.5 774.5V780.9L865.0 779.3V771.6L866.1 773.1V786.7M1125.8 771.3V776.6L1128.0 783.8V766.3L1128.7 766.3V783.8L1130.3 776.1V770.8L1131.7 770.7V776.0L1133.3 776.2V773.8L1134.7 771.7V775.7L1136.2 776.3V775.7L1137.8 772.8V777.2L1139.3 774.7V773.6L1140.8 773.2V777.1L1142.3 776.2V775.6L1143.8 774.3V775.8L1145.3 776.2V774.6L1146.8 774.8V776.4L1148.8 778.8V775.2L1151.3 775.1V778.7L1152.5 780.8V774.9L1154.7 766.3V779.2L1156.2 779.3V773.9L1157.7 773.7V778.8L1158.8 780.4V773.8L1160.7 770.7V784.5L1161.8 780.6V774.2L1163.3 773.1V779.2L1164.8 783.7V775.3L1166.6 776.7V780.8L1167.8 782.2V773.6L1169.3 773.8V780.6L1170.8 780.1V773.7L1172.5 773.0V784.5L1173.8 778.8V775.2L1175.5 766.3V780.7L1176.8 781.5V773.5L1178.5 773.8V780.8L1180.0 780.4V772.2L1181.3 773.7V781.5L1182.8 781.6V775.3L1184.3 774.9V778.5L1185.8 778.5V775.2L1188.0 772.8V785.2L1190.9 779.3V774.9L1193.3 774.2V781.6L1195.4 780.5V775.1L1197.8 773.5V782.2L1199.8 782.3V775.3L1202.3 776.3V783.3L1203.8 783.7V774.1L1205.3 775.2V780.6L1207.3 783.7V776.2L1209.8 773.1V775.2L1211.7 785.2V776.3L1214.3 766.6V782.2L1216.2 781.1V769.8L1217.7 767.8V782.0L1219.1 779.3V768.0L1220.3 770.0V779.7L1222.1 778.7V764.0L1223.6 770.6V782.3L1224.8 778.7V771.0L1226.6 770.7V779.5L1227.8 775.3V769.8L1229.3 769.6V780.5L1230.8 782.1V772.9L1232.3 770.5V775.7L1233.8 777.3V771.1L1235.5 767.8V777.1L1237.0 782.3V766.0L1238.3 767.0V776.6L1239.8 777.2V772.1L1241.4 763.3V775.2L1242.8 776.5V771.2L1244.3 770.6V777.4L1245.8 777.4V771.2L1247.3 770.7V774.7L1248.8 775.0V766.5L1250.3 766.1V776.7L1251.8 777.0V769.6L1253.3 769.7V774.9L1254.8 774.5V764.9L1256.3 760.3V782.3L1257.8 775.5V766.5L1259.3 761.9V776.2L1260.8 775.3V761.7L1262.2 757.4V776.9L1263.8 774.9V765.8L1265.9 754.4V776.7L1268.3 776.4V760.9L1269.8 764.1V776.2L1271.1 776.4V751.4L1272.6 761.3V779.3L1274.1 776.3V761.8L1275.8 769.6V777.0L1277.8 776.7V768.5L1280.3 764.0V775.0L1281.5 775.7V764.8L1283.3 766.0V777.2L1284.8 775.0V764.7L1286.7 767.3V775.3L1287.8 775.3V766.8L1289.3 766.9V775.0L1290.4 775.4V758.8L1292.3 768.6V774.8L1294.1 776.5V770.7L1295.3 765.1V777.2L1296.8 775.5V765.4L1298.3 769.6V775.3L1299.8 776.9V771.4L1301.3 770.1V775.3L1302.8 776.9V771.5L1304.3 766.7V775.0L1306.7 775.1V769.2L1308.8 772.5V775.8L1310.5 775.5V764.0L1311.8 772.1V775.3L1314.2 775.0V772.2L1316.3 773.5V774.5L1317.8 775.1V773.6L1319.3 773.0V777.0L1320.8 774.9V774.3L1323.1 773.0V776.9L1325.3 775.0V773.4L1326.8 773.7V777.0L1328.3 783.4V773.9L1329.8 774.3V785.2L1332.0 784.4V773.7L1334.9 774.7V782.3L1337.3 787.6V775.8L1339.4 774.7V788.9L1342.4 775.5V774.9M1375.8 774.2V775.4L1377.3 776.6V773.7L1379.5 774.7V776.8L1382.5 785.3V767.8L1383.9 771.0V782.3L1386.3 781.9V770.1L1387.6 771.5V786.7L1389.3 785.6V773.0L1391.3 772.2V782.8L1393.8 786.0V775.1L1395.1 773.9V788.2L1396.8 790.3V775.0L1398.8 775.2V791.2L1401.3 789.3V774.1L1402.8 773.5V783.7L1404.7 782.5V774.4L1405.2 775.1V794.1L1407.7 780.8V770.7L1408.8 774.6V781.8L1410.3 781.6V775.6L1411.4 776.0V785.2L1413.3 778.6V770.6L1414.8 768.3V780.5L1416.6 779.3V776.2L1417.8 776.0V781.2L1419.6 774.6V762.6L1420.8 761.9V777.0L1422.3 775.8V764.1L1423.8 767.9V774.5L1426.2 775.2V759.6L1428.3 762.6V775.9L1429.8 776.3V765.6L1431.4 764.8V776.2L1432.8 776.9V766.1L1434.3 774.5V777.0L1435.8 776.9V775.7M1478.5 776.3V777.2L1480.0 777.8V775.0L1481.5 775.2V777.1L1483.0 776.6V776.0L1484.5 776.2V777.8L1486.0 776.7V774.7M1504.5 773.7V779.3L1506.0 783.2V776.6L1508.2 770.7V782.0L1511.2 788.9V769.4L1513.5 771.4V784.4L1514.9 782.3V770.8L1516.5 772.9V781.1L1518.6 784.3V766.3L1521.0 770.4V775.0L1522.3 782.5V771.5L1524.0 769.7V776.5L1526.0 774.7V773.0L1529.0 773.3V786.7L1531.5 775.3V774.7L1532.7 775.2V776.5L1534.5 776.3V773.1L1536.0 773.6V774.8L1537.5 775.8V775.2L1539.0 775.0V776.2L1540.5 776.6V772.6L1542.0 775.3V775.9L1543.5 775.3V766.3L1545.0 766.8V777.3L1547.6 775.8V761.8L1549.5 769.5V780.0L1551.3 782.5V764.8L1552.8 763.2V782.3L1554.0 783.5V767.9L1556.5 767.2V785.2L1558.5 782.3V765.1L1560.2 772.8V782.2L1561.5 774.8V774.2L1563.2 775.4V776.0L1564.5 775.3V774.7L1566.0 774.6V775.4L1567.6 776.8V773.7L1569.0 773.7V775.4L1570.5 777.0V773.2L1572.0 771.0V776.7L1574.3 775.8V767.0L1576.5 769.7V775.0L1578.0 775.4V769.5L1579.5 769.9V774.8L1581.0 776.3V767.8L1582.5 771.9V776.6L1584.0 776.9V773.5L1585.5 771.0V775.4L1586.9 774.9V770.0L1588.4 770.3V777.1L1590.0 776.5V770.3L1591.4 773.7V777.4L1593.0 776.5V770.6L1594.5 769.2V777.3L1595.8 776.9V764.8L1597.3 767.5V777.1L1598.5 774.9V769.4L1601.0 764.8V777.3L1604.0 776.5V768.6L1607.0 765.5V774.5L1609.5 776.3V764.8L1610.7 764.8V778.6L1612.5 777.8V769.5L1614.0 768.9V776.9L1615.5 777.3V764.2L1617.0 764.1V777.5L1618.1 777.8V762.6L1618.8 762.6V777.8L1620.0 776.7V766.8L1621.5 766.6V775.6L1624.0 776.4V763.3L1626.0 767.2V776.3L1627.4 776.8V767.2L1629.2 770.7V776.5L1630.5 777.4V770.5L1632.0 770.3V776.7L1634.4 774.7V770.0L1636.5 773.7V775.2L1638.0 776.2V771.0L1639.6 765.5V774.5L1640.3 784.5V765.5L1642.5 771.5V777.1L1644.1 775.7V775.1M1664.8 773.7V774.7L1666.8 776.6V771.2L1670.0 767.0V783.5L1672.3 788.9V767.6L1674.0 767.8V783.3L1675.3 782.8V768.6L1676.7 769.7V788.2L1678.2 782.3V772.8M248.8 749.9V776.1M283.7 736.6V776.1M299.3 739.5V776.1M320.1 776.1V807.5M326.8 776.1V809.0M345.3 776.1V791.2M357.9 753.7V776.1M370.6 757.4V776.1M401.8 757.4V776.1M406.2 751.4V776.1M427.3 742.5V776.1M443.9 776.1V884.4M451.0 776.1V820.9M455.8 776.1V869.4M467.4 751.4V776.1M481.3 762.6V776.1M497.4 776.1V805.3M507.7 776.1V797.1M596.1 760.3V776.1M793.4 776.1V846.1M807.5 776.1V791.9M817.1 757.4V776.1M817.9 757.4V776.1M859.9 763.3V776.1M1134.7 743.3V776.1M1195.4 776.1V792.7M1207.3 776.1V794.1M1216.2 776.1V803.1M1277.8 749.9V776.1M1286.7 748.5V776.1M1332.0 776.1V795.6M1339.4 758.1V776.1M1379.5 776.1V788.2M1383.9 776.1V803.1M1391.3 776.1V801.6M1404.7 750.7V776.1M1404.7 776.1V794.1M1405.2 750.7V776.1M1522.3 776.1V800.1M1560.2 762.6V776.1M1598.5 755.1V776.1M1604.0 754.4V776.1M1627.4 753.2V776.1M1639.6 776.1V784.5M1666.8 776.1V809.0" stroke="#f5d638" stroke-width="3.3" stroke-linecap="round" stroke-linejoin="round" fill="none"/>
<path d="M231.8 776.2H1679.2" stroke="#000" stroke-width="3.1" fill="none"/>
<g>
<rect x="366.9" y="86.9" width="1136.6" height="58.4" rx="6" ry="6" fill="#fff" fill-opacity="0.8" stroke="#ccc" stroke-opacity="0.8" stroke-width="4.17"/>
<path d="M377.3 113.4h70.8" stroke="#558b2f" stroke-width="4.3"/>
<text class="lg" x="473.5" y="125.2">CRIMP-2</text>
<path d="M676.1 113.4h70.8" stroke="#dd0000" stroke-width="4.3"/>
<text class="lg" x="771.6" y="125.2">Ala Wai</text>
<path d="M962 113.4h70.8" stroke="#f5d638" stroke-width="4.3"/>
<text class="lg" x="1057.3" y="125.2">Kilo Nalu</text>
<path d="M1269 113.4h70.8" stroke="#00007f" stroke-width="4.3"/>
<text class="lg" x="1364.6" y="125.2">WHOTS</text>
</g>
<rect x="191.0" y="69.9" width="1488.2" height="979.0500000000001" fill="none" stroke="#000" stroke-width="3.33"/>
<path d="M292.3 1048.95v14.6M465.5 1048.95v14.6M638.7 1048.95v14.6M811.9 1048.95v14.6M985.5 1048.95v14.6M1158.7 1048.95v14.6M1331.9 1048.95v14.6M1505.1 1048.95v14.6M191.0 135.9h-14.6M191.0 349.3h-14.6M191.0 562.7h-14.6M191.0 776.1h-14.6M191.0 989.5h-14.6" stroke="#000" stroke-width="3.33" fill="none"/>
<text class="tk" text-anchor="end" x="161.8" y="152.1">30</text>
<text class="tk" text-anchor="end" x="161.8" y="365.5">20</text>
<text class="tk" text-anchor="end" x="161.8" y="578.9">10</text>
<text class="tk" text-anchor="end" x="161.8" y="792.3">0</text>
<text class="tk" text-anchor="end" x="161.8" y="1005.7">−10</text>
<text class="xt" text-anchor="end" transform="translate(287.9 1105.6) rotate(-30)">2009</text>
<text class="xt" text-anchor="end" transform="translate(461.1 1105.6) rotate(-30)">2010</text>
<text class="xt" text-anchor="end" transform="translate(634.3 1105.6) rotate(-30)">2011</text>
<text class="xt" text-anchor="end" transform="translate(807.5 1105.6) rotate(-30)">2012</text>
<text class="xt" text-anchor="end" transform="translate(981.1 1105.6) rotate(-30)">2013</text>
<text class="xt" text-anchor="end" transform="translate(1154.3 1105.6) rotate(-30)">2014</text>
<text class="xt" text-anchor="end" transform="translate(1327.5 1105.6) rotate(-30)">2015</text>
<text class="xt" text-anchor="end" transform="translate(1500.7 1105.6) rotate(-30)">2016</text>
<text font-size="42.3px" text-anchor="middle" x="935.25" y="1214.4">Time</text>
<text class="tk" text-anchor="middle" transform="translate(41.0 559.55) rotate(-90)">Air-Sea CO<tspan font-size="29.17px" dy="6.7">2</tspan><tspan dy="-6.7"> Flux (mol C/m</tspan><tspan font-size="29.17px" dy="-15.1">2</tspan><tspan dy="15.1">/yr)</tspan></text>
<text font-size="50.32px" text-anchor="middle" x="933.85" y="41.1">Instantaneous Air-Sea CO<tspan font-size="35px" dy="7.6">2</tspan><tspan dy="-7.6"> Flux</tspan></text>
</svg>
</body></html>
